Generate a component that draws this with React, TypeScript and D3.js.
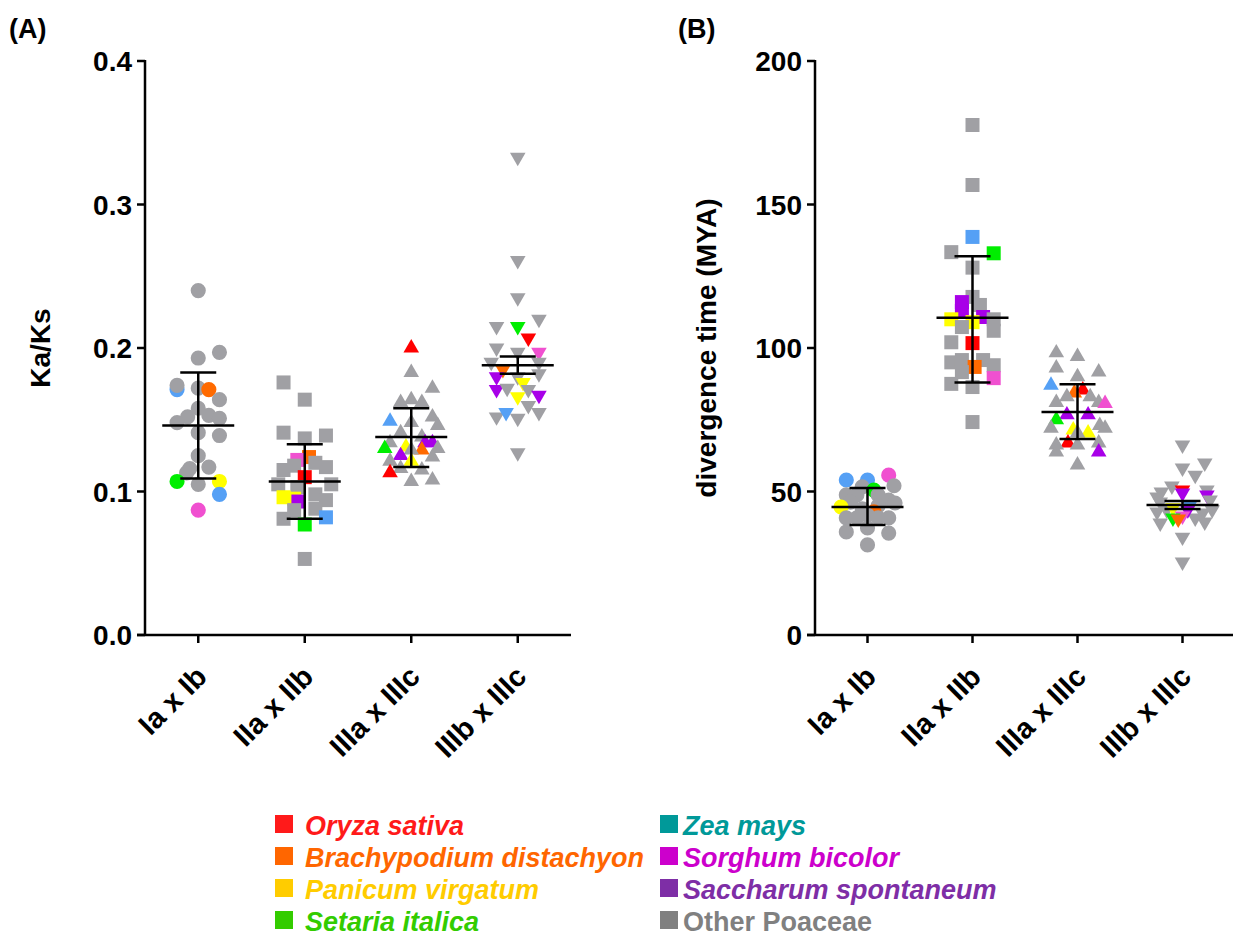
import React from 'react';
import * as d3 from 'd3';

const W = 1233;
const H = 936;

const categories = ['Ia x Ib', 'IIa x IIb', 'IIIa x IIIc', 'IIIb x IIIc'];

// point colours used in the plots
const pointColors: Record<string, string> = {
  g: '#a0a0a4', r: '#ff0000', o: '#ff6a00', y: '#ffff00', gr: '#00ee00',
  b: '#55a0f5', p: '#f050d0', pu: '#a800e8',
};

// [value, jitter column, colour key]
const kaksIa = [
  [0.240, 0, 'g'], [0.193, 0, 'g'], [0.197, 2, 'g'], [0.171, -2, 'b'], [0.174, -2, 'g'], [0.172, 0, 'g'],
  [0.171, 1, 'o'], [0.164, 2, 'g'], [0.158, 0, 'g'], [0.152, -1, 'g'], [0.148, -2, 'g'], [0.153, 1, 'g'],
  [0.151, 2, 'g'], [0.141, 0, 'g'], [0.139, 2, 'g'], [0.125, 0, 'g'], [0.116, -0.8, 'g'], [0.117, 1, 'g'],
  [0.113, -1.1, 'g'], [0.107, -2, 'gr'], [0.107, 2, 'y'], [0.105, 0, 'g'], [0.098, 2, 'b'], [0.087, 0, 'p'],
];
const kaksIIa = [
  [0.176, -2, 'g'], [0.164, 0, 'g'], [0.141, -2, 'g'], [0.137, 0, 'g'], [0.139, 2, 'g'], [0.124, 0.4, 'o'],
  [0.122, -0.7, 'p'], [0.115, -2, 'g'], [0.118, -1, 'g'], [0.120, 1, 'g'], [0.117, 2, 'g'], [0.110, 0, 'r'],
  [0.105, -2.5, 'g'], [0.105, 2.5, 'g'], [0.103, -0.7, 'g'], [0.096, -2, 'y'], [0.095, -1, 'y'],
  [0.093, -0.6, 'pu'], [0.098, 1, 'g'], [0.094, 2, 'g'], [0.087, -1, 'g'], [0.088, 1, 'g'],
  [0.081, -2, 'g'], [0.082, 2, 'b'], [0.077, 0, 'gr'], [0.053, 0, 'g'],
];
const kaksIIIa = [
  [0.200, 0, 'r'], [0.183, 0, 'g'], [0.172, 2, 'g'], [0.162, -1, 'g'], [0.164, 0, 'g'], [0.162, 1, 'g'],
  [0.149, -2, 'b'], [0.152, 2, 'g'], [0.148, 0, 'g'], [0.146, 2.5, 'g'], [0.141, -1, 'g'], [0.134, -2, 'g'],
  [0.138, 1, 'g'], [0.134, 1.3, 'pu'], [0.134, 2, 'pu'], [0.130, -2.5, 'gr'], [0.129, 1, 'o'],
  [0.130, 2.5, 'g'], [0.131, -0.5, 'y'], [0.129, 0, 'g'], [0.125, -1, 'pu'], [0.121, -2, 'g'],
  [0.124, 2, 'g'], [0.121, 0, 'y'], [0.116, -1, 'g'], [0.115, 1, 'g'], [0.113, -2, 'r'],
  [0.107, 0, 'g'], [0.108, 2, 'g'],
];
const kaksIIIb = [
  [0.333, 0, 'g'], [0.261, 0, 'g'], [0.235, 0, 'g'], [0.215, -2, 'g'], [0.215, 0, 'gr'], [0.220, 2, 'g'],
  [0.207, 1, 'r'], [0.200, -2, 'g'], [0.197, 0, 'g'], [0.197, 2, 'p'], [0.190, -2.5, 'g'], [0.190, 2, 'g'],
  [0.185, -1.4, 'o'], [0.180, -2, 'pu'], [0.180, 0, 'g'], [0.182, 2, 'g'], [0.176, 0.5, 'y'],
  [0.171, -2, 'pu'], [0.172, -1, 'g'], [0.171, 1, 'g'], [0.166, 0, 'y'], [0.167, 2, 'pu'],
  [0.160, 1, 'g'], [0.152, -2, 'g'], [0.155, -1.1, 'b'], [0.151, 0, 'g'], [0.155, 2, 'g'], [0.127, 0, 'g'],
];

const divIa = [
  [54, -2, 'b'], [54, 0, 'b'], [55.7, 2, 'p'], [52, 2.5, 'g'], [51.6, -0.5, 'g'], [50.5, 0.6, 'gr'],
  [48.8, -2, 'g'], [48.8, -1, 'g'], [48.8, 1, 'g'], [47, 2, 'g'], [46.3, -1.6, 'g'], [46, 2.6, 'g'],
  [44.6, -2.5, 'y'], [45, 1, 'g'], [44, -0.5, 'g'], [42.9, 0.6, 'o'], [41.8, 0, 'g'], [40.8, -2, 'g'],
  [40.8, -1, 'g'], [40.8, 1, 'g'], [40.8, 2, 'g'], [35.9, -2, 'g'], [37.3, 0, 'g'], [35.5, 2, 'g'],
  [31.4, 0, 'g'],
];
const divIIa = [
  [177.7, 0, 'g'], [156.8, 0, 'g'], [138.7, 0, 'b'], [133.4, -2, 'g'], [133, 2, 'gr'], [128, 0, 'g'],
  [117.8, 0, 'g'], [116, -1, 'pu'], [115, 0.7, 'g'], [113, -1, 'pu'], [110, -2, 'y'], [110.8, 1, 'pu'],
  [110, 2, 'g'], [109, 0, 'y'], [107.3, -1, 'g'], [106, 2, 'g'], [102, -2, 'g'], [101.7, 0, 'r'],
  [95, -2, 'g'], [95.8, -1, 'g'], [95.8, 1, 'g'], [94, 2, 'g'], [93.4, 0.2, 'o'], [91.6, -1, 'g'],
  [89.5, 2, 'p'], [87.5, -2, 'g'], [86.4, 0, 'g'], [74.2, 0, 'g'],
];
const divIIIa = [
  [98.3, -2, 'g'], [97, 0, 'g'], [93, -2, 'g'], [91.6, 2, 'g'], [90, 0, 'g'], [87, -2.5, 'b'],
  [85.4, 0.5, 'r'], [84.3, -0.3, 'o'], [83, -1, 'g'], [83, 1.2, 'g'], [81, -2, 'g'], [81, 2, 'g'],
  [80.7, 2.6, 'p'], [76.7, -1, 'pu'], [76.7, 1, 'pu'], [75, -2, 'gr'], [72, -2.5, 'g'], [73, 2.1, 'g'],
  [72, 2.6, 'g'], [71.4, -0.4, 'y'], [70.4, 1, 'y'], [70.4, 0, 'g'], [66.9, -0.9, 'r'], [66.2, -2, 'g'],
  [66.2, 0, 'g'], [66.9, 2, 'g'], [63.8, 2, 'pu'], [63.8, -2, 'g'], [59.2, 0, 'g'],
];
const divIIIb = [
  [66.2, 0, 'g'], [58.2, 0, 'g'], [59.9, 2.1, 'g'], [55.7, 1.2, 'g'], [51.9, -1, 'g'], [49.8, -2, 'g'],
  [50.5, 2.3, 'g'], [50.5, 0, 'r'], [49.5, 0, 'pu'], [48.8, 2.3, 'pu'], [48.1, -2.4, 'g'], [47, 2.6, 'g'],
  [46.3, -2.1, 'g'], [43.6, -1.5, 'g'], [42.9, -2.4, 'g'], [43.6, 2.8, 'g'], [42.5, 1.9, 'g'],
  [39, -2.1, 'g'], [40.8, 1.2, 'g'], [39.4, 2.1, 'g'], [45.3, 0.7, 'b'], [44.3, -0.9, 'y'],
  [43.6, 0.5, 'pu'], [41.5, 0, 'p'], [40.8, -0.9, 'gr'], [40.4, -0.4, 'o'], [34.1, 0, 'g'], [25.4, 0, 'g'],
];

// mean with error bars
const kaksMean = [0.146, 0.107, 0.138, 0.188];
const kaksHigh = [0.183, 0.133, 0.158, 0.194];
const kaksLow = [0.109, 0.081, 0.117, 0.182];
const divMean = [44.6, 110.5, 77.7, 45.3];
const divHigh = [51.2, 132, 87.4, 46.7];
const divLow = [38.3, 88, 68.3, 43.9];

const kaksTicks = [0, 0.1, 0.2, 0.3, 0.4];
const divTicks = [0, 50, 100, 150, 200];

const legendLeft = [
  ['Oryza sativa', '#ff1a1a'],
  ['Brachypodium distachyon', '#ff6600'],
  ['Panicum virgatum', '#ffcc00'],
  ['Setaria italica', '#33cc00'],
];
const legendRight = [
  ['Zea mays', '#009999'],
  ['Sorghum bicolor', '#cc00cc'],
  ['Saccharum spontaneum', '#7e2ea6'],
  ['Other Poaceae', '#808080'],
];

const font = '"Liberation Sans", Arial, Helvetica, sans-serif';
const shapes = [d3.symbolCircle, d3.symbolSquare, d3.symbolTriangle, d3.symbolTriangle];
const shapeSize = [180, 196, 105, 105];

const Panel = ({ x0, x1, yTop, yBottom, domain, ticks, fmt, groups, mean, high, low, title, titleX, tag, tagX }: any) => {
  const x = d3.scaleBand().domain(categories).range([x0, x1]);
  const y = d3.scaleLinear().domain(domain).range([yBottom, yTop]);
  const jitter = d3.scaleLinear().domain([-1, 1]).range([-10.6, 10.6]);
  const cx = (i: number) => (x(categories[i]) as number) + x.bandwidth() / 2;
  return (
    <g>
      <text x={tagX} y={38} fontSize={27} fontWeight="bold" fontFamily={font}>{tag}</text>
      {groups.map((pts: any[], gi: number) => (
        <g key={gi}>
          {pts.map((d, i) => (
            <path
              key={i}
              d={d3.symbol().type(shapes[gi]).size(shapeSize[gi])() as string}
              transform={`translate(${cx(gi) + jitter(d[1])},${y(d[0])})${gi === 3 ? ' rotate(180)' : ''}`}
              fill={pointColors[d[2]]}
            />
          ))}
        </g>
      ))}
      {mean.map((m: number, i: number) => (
        <g key={i} stroke="#000" strokeWidth={2.5}>
          <line x1={cx(i)} x2={cx(i)} y1={y(high[i])} y2={y(low[i])} />
          <line x1={cx(i) - 18} x2={cx(i) + 18} y1={y(high[i])} y2={y(high[i])} />
          <line x1={cx(i) - 18} x2={cx(i) + 18} y1={y(low[i])} y2={y(low[i])} />
          <line x1={cx(i) - 36} x2={cx(i) + 36} y1={y(m)} y2={y(m)} />
        </g>
      ))}
      <g stroke="#000" strokeWidth={2.5}>
        <line x1={x0} x2={x0} y1={yTop - 1} y2={yBottom} />
        <line x1={x0 - 8} x2={x1} y1={yBottom} y2={yBottom} />
        {ticks.map((t: number) => (
          <line key={t} x1={x0 - 8} x2={x0} y1={y(t)} y2={y(t)} />
        ))}
        {categories.map((c, i) => (
          <line key={c} x1={cx(i)} x2={cx(i)} y1={yBottom} y2={yBottom + 8} />
        ))}
      </g>
      {ticks.map((t: number) => (
        <text key={t} x={x0 - 13} y={y(t)} dy="0.36em" textAnchor="end" fontSize={28} fontWeight="bold" fontFamily={font}>
          {fmt(t)}
        </text>
      ))}
      {categories.map((c, i) => (
        <text
          key={c}
          transform={`translate(${cx(i) - 4},${yBottom + 29}) rotate(-45)`}
          textAnchor="end"
          dy="0.7em"
          fontSize={29}
          fontWeight="bold"
          fontFamily={font}
        >
          {c}
        </text>
      ))}
      <text
        transform={`translate(${titleX},${(yTop + yBottom) / 2}) rotate(-90)`}
        textAnchor="middle"
        fontSize={28}
        fontWeight="bold"
        fontFamily={font}
      >
        {title}
      </text>
    </g>
  );
};

const Legend = ({ items, sx, tx }: any) => (
  <g>
    {items.map((d: string[], i: number) => (
      <g key={d[0]}>
        <rect x={sx} y={815 + i * 32} width={18} height={18} fill={d[1]} />
        <text x={tx} y={835 + i * 32} fontSize={27} fontWeight="bold" fontStyle={d[0] === 'Other Poaceae' ? 'normal' : 'italic'} fill={d[1]} fontFamily={font}>
          {d[0]}
        </text>
      </g>
    ))}
  </g>
);

const App = () => {
  return (
    <svg width={W} height={H} style={{ position: 'absolute', left: 0, top: 0, background: '#fff' }}>
      <Panel
        x0={145} x1={571} yTop={61} yBottom={635}
        domain={[0, 0.4]} ticks={kaksTicks} fmt={d3.format('.1f')}
        groups={[kaksIa, kaksIIa, kaksIIIa, kaksIIIb]}
        mean={kaksMean} high={kaksHigh} low={kaksLow}
        title="Ka/Ks" titleX={50} tag="(A)" tagX={9}
      />
      <Panel
        x0={815} x1={1235} yTop={61} yBottom={635}
        domain={[0, 200]} ticks={divTicks} fmt={d3.format('d')}
        groups={[divIa, divIIa, divIIIa, divIIIb]}
        mean={divMean} high={divHigh} low={divLow}
        title="divergence time (MYA)" titleX={716} tag="(B)" tagX={678}
      />
      <Legend items={legendLeft} sx={275} tx={305} />
      <Legend items={legendRight} sx={660} tx={683} />
    </svg>
  );
};

export default App;
